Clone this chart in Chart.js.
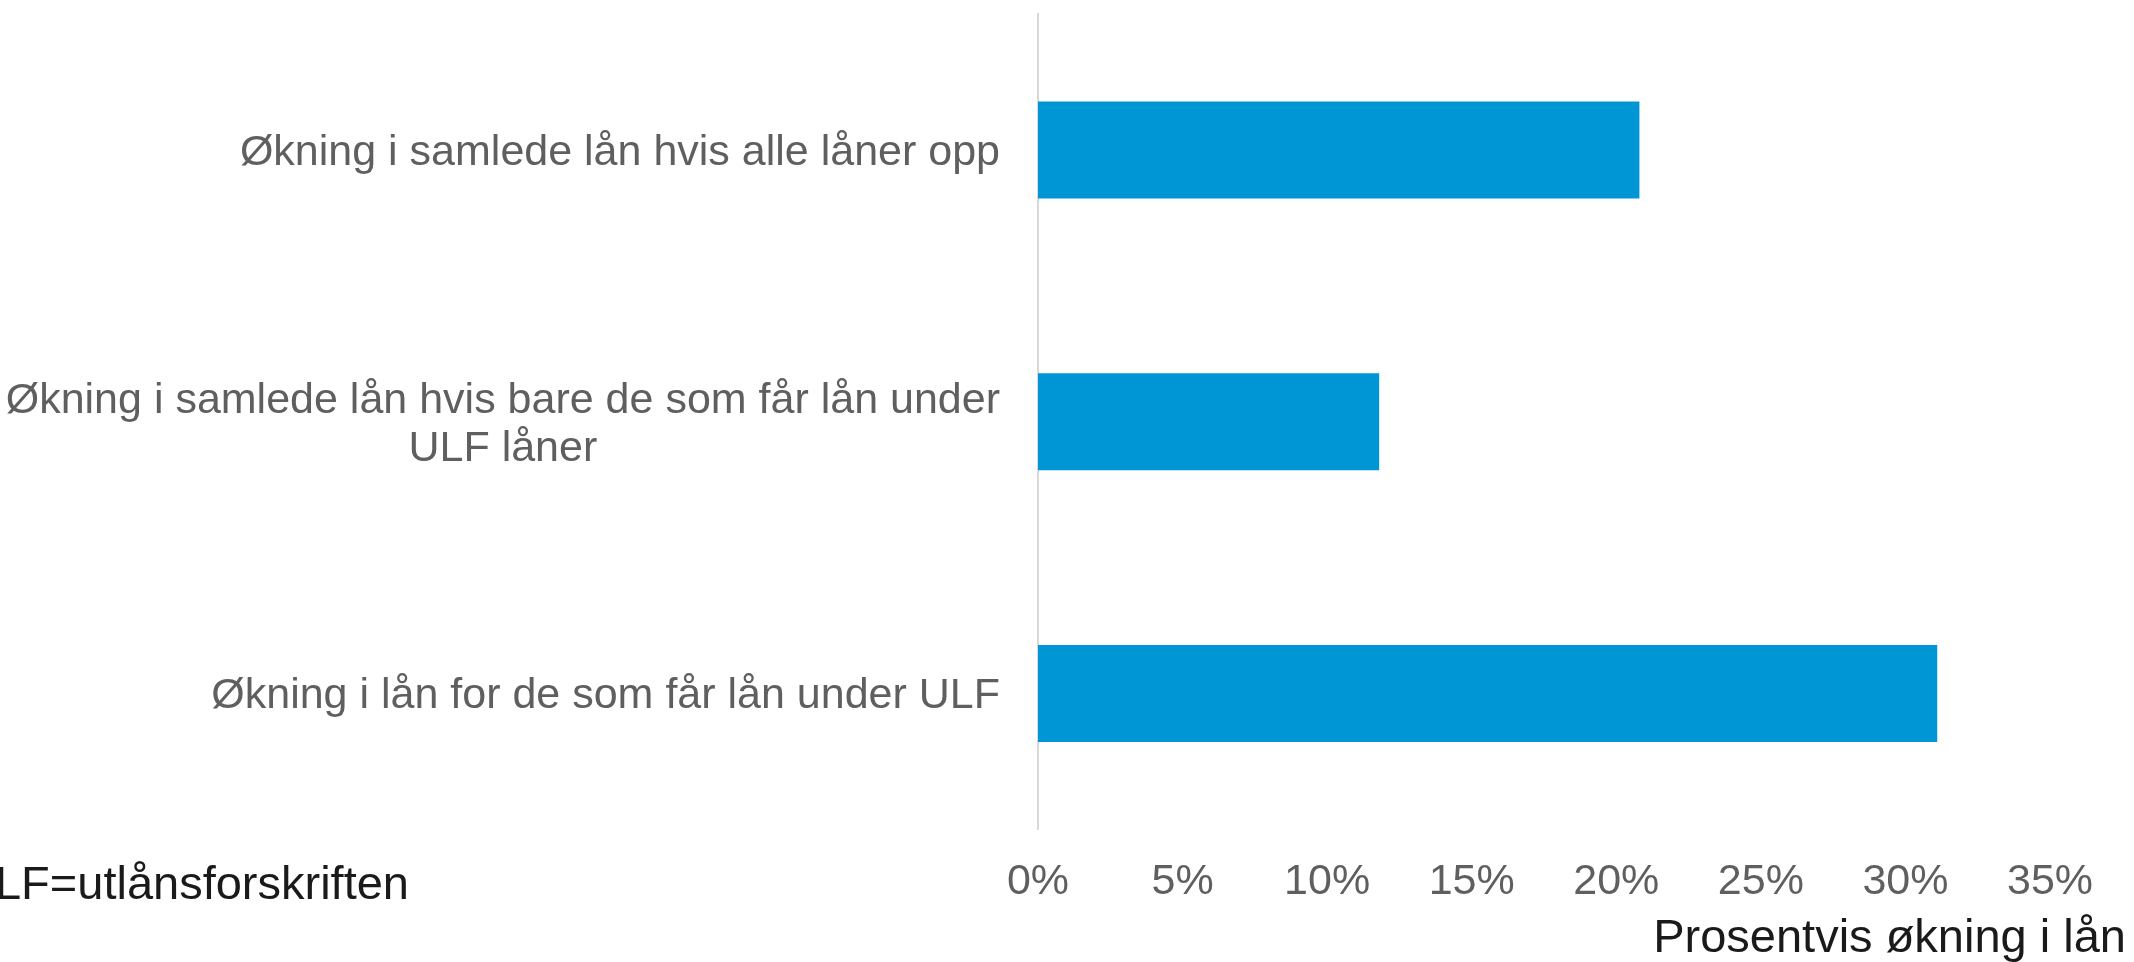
<!DOCTYPE html>
<html>
<head>
<meta charset="utf-8">
<title>Prosentvis økning i lån</title>
<script src="https://cdn.jsdelivr.net/npm/chart.js@4.4.1/dist/chart.umd.min.js"></script>
<style>
    html, body { margin: 0; padding: 0; background: #ffffff; }
    #wrap { position: relative; width: 2134px; height: 962px; }
</style>
</head>
<body>
<div id="wrap"><canvas id="loanChart"></canvas></div>
<script>
// Categories (multi-line labels as arrays)
var categories = [
    ['Økning i samlede lån hvis alle låner opp'],
    ['Økning i samlede lån hvis bare de som får lån under', 'ULF låner'],
    ['Økning i lån for de som får lån under ULF']
];
// Percentage increase in loans
var values = [20.8, 11.8, 31.1];
// X axis ticks (percent)
var xTicks = [0, 5, 10, 15, 20, 25, 30, 35];
var axisTitle = 'Prosentvis økning i lån';
var footnote = 'ULF=utlånsforskriften';

var FONT = '"Liberation Sans", Arial, sans-serif';
var GREY = '#5f5f5f';

// Draw category labels, axis title and footnote
var textPlugin = {
    id: 'textPlugin',
    afterDraw: function(chart) {
        var ctx = chart.ctx;
        var yScale = chart.scales.y;
        ctx.save();
        ctx.font = '43px ' + FONT;
        ctx.fillStyle = GREY;
        ctx.textBaseline = 'middle';
        var rightEdge = chart.chartArea.left - 38;
        var lineH = 48;
        categories.forEach(function(lines, i) {
            var cy = yScale.getPixelForValue(i) + 3;
            var maxW = 0;
            lines.forEach(function(l) { maxW = Math.max(maxW, ctx.measureText(l).width); });
            var cx = rightEdge - maxW / 2;
            ctx.textAlign = lines.length > 1 ? 'center' : 'right';
            lines.forEach(function(l, j) {
                var y = cy + (j - (lines.length - 1) / 2) * lineH;
                ctx.fillText(l, lines.length > 1 ? cx : rightEdge, y);
            });
        });

        // axis title, right aligned
        ctx.fillStyle = '#1a1a1a';
        ctx.textBaseline = 'alphabetic';
        ctx.textAlign = 'right';
        ctx.font = '47px ' + FONT;
        ctx.fillText(axisTitle, 2126, 952);

        // footnote (cut at the left edge like the original)
        ctx.fillText(footnote, 409, 899);
        ctx.restore();
    }
};

var ctx = document.getElementById('loanChart').getContext('2d');
var loanChart = new Chart(ctx, {
    type: 'bar',
    data: {
        labels: categories,
        datasets: [{
            label: axisTitle,
            data: values,
            backgroundColor: '#0096D6',
            borderWidth: 0,
            categoryPercentage: 1,
            barPercentage: 0.357
        }]
    },
    options: {
        indexAxis: 'y',
        responsive: true,
        maintainAspectRatio: false,
        animation: false,
        layout: {
            padding: { left: 1038, right: 84, top: 14, bottom: 27 }
        },
        plugins: {
            legend: { display: false },
            tooltip: { enabled: false }
        },
        scales: {
            x: {
                min: xTicks[0],
                max: xTicks[xTicks.length - 1],
                afterBuildTicks: function(scale) {
                    scale.ticks = xTicks.map(function(v) { return { value: v }; });
                },
                grid: { display: false, drawTicks: false },
                border: { display: false },
                ticks: {
                    padding: 27,
                    color: GREY,
                    font: { family: FONT, size: 43 },
                    callback: function(v) { return v + '%'; }
                }
            },
            y: {
                offset: true,
                grid: { display: false, drawTicks: false },
                border: { display: true, color: '#d9d9d9', width: 2 },
                ticks: { display: false }
            }
        }
    },
    plugins: [textPlugin]
});
</script>
</body>
</html>
